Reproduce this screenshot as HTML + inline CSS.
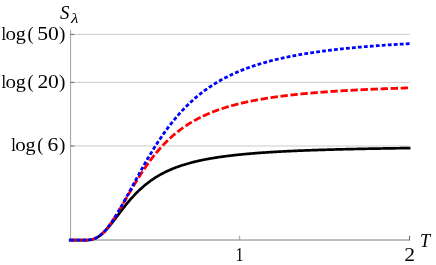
<!DOCTYPE html>
<html><head><meta charset="utf-8"><style>
html,body{margin:0;padding:0;background:#fff;}
body{width:436px;height:265px;overflow:hidden;}
svg{display:block;will-change:transform}
text{font-family:"Liberation Serif",serif;fill:#000;}
</style></head><body>
<svg width="436" height="265" viewBox="0 0 436 265">
<rect width="436" height="265" fill="#fff"/>
<g stroke="#cdcdcd" stroke-width="1" fill="none">
<line x1="70.6" y1="34.43" x2="409.8" y2="34.43"/>
<line x1="70.6" y1="82.42" x2="409.8" y2="82.42"/>
<line x1="70.6" y1="145.97" x2="409.8" y2="145.97"/>
</g>
<g stroke="#777" stroke-width="0.7" fill="none">
<line x1="70.6" y1="29.9" x2="70.6" y2="240.5"/>
<line x1="70.2" y1="240.0" x2="409.9" y2="240.0" stroke="#808080" stroke-width="1"/>
</g>
<g stroke="#6a6a6a" stroke-width="1" fill="none">
<line x1="70.6" y1="34.43" x2="74.4" y2="34.43"/>
<line x1="70.6" y1="82.42" x2="74.4" y2="82.42"/>
<line x1="70.6" y1="145.97" x2="74.4" y2="145.97"/>
<line x1="239.7" y1="235.8" x2="239.7" y2="240" stroke="#999"/>
<line x1="409.5" y1="235.7" x2="409.5" y2="240.5"/>
</g>
<g fill="none" stroke-width="2.8" stroke-linejoin="round">
<path d="M68.9,240.1 L70.5,240.1" stroke="#000" stroke-width="2.7"/>
<path d="M70.48,240.15 L71.33,240.15 L72.18,240.15 L73.03,240.15 L73.88,240.15 L74.72,240.15 L75.57,240.15 L76.42,240.15 L77.27,240.15 L78.12,240.15 L78.96,240.15 L79.81,240.15 L80.66,240.15 L81.51,240.15 L82.35,240.15 L83.20,240.14 L84.05,240.14 L84.90,240.13 L85.75,240.11 L86.59,240.08 L87.44,240.04 L88.29,239.98 L89.14,239.90 L89.99,239.79 L90.83,239.66 L91.68,239.49 L92.53,239.29 L93.38,239.05 L94.22,238.76 L95.07,238.43 L95.92,238.05 L96.77,237.63 L97.62,237.16 L98.46,236.64 L99.31,236.07 L100.16,235.45 L101.01,234.79 L101.85,234.08 L102.70,233.33 L103.55,232.54 L104.40,231.70 L105.25,230.83 L106.09,229.93 L106.94,228.99 L107.79,228.03 L108.64,227.03 L109.49,226.02 L110.33,224.98 L111.18,223.92 L112.03,222.85 L112.88,221.76 L113.72,220.66 L114.57,219.56 L115.42,218.44 L116.27,217.33 L117.12,216.21 L117.96,215.09 L118.81,213.97 L119.66,212.85 L120.51,211.74 L121.36,210.64 L122.20,209.54 L123.05,208.45 L123.90,207.37 L124.75,206.30 L125.59,205.25 L126.44,204.20 L127.29,203.17 L128.14,202.15 L128.99,201.15 L129.83,200.16 L130.68,199.19 L131.53,198.23 L132.38,197.28 L133.23,196.36 L134.07,195.45 L134.92,194.55 L135.77,193.67 L136.62,192.81 L137.46,191.96 L138.31,191.13 L139.16,190.32 L140.01,189.52 L140.86,188.74 L141.70,187.97 L142.55,187.22 L143.40,186.49 L144.25,185.77 L145.10,185.06 L145.94,184.37 L146.79,183.69 L147.64,183.03 L148.49,182.38 L149.33,181.75 L150.18,181.13 L151.03,180.52 L151.88,179.93 L152.73,179.35 L153.57,178.78 L154.42,178.22 L155.27,177.68 L156.12,177.15 L156.96,176.63 L157.81,176.12 L158.66,175.62 L159.51,175.13 L160.36,174.65 L161.20,174.18 L162.05,173.73 L162.90,173.28 L163.75,172.84 L164.60,172.41 L165.44,171.99 L166.29,171.58 L167.14,171.18 L167.99,170.79 L168.83,170.40 L169.68,170.03 L170.53,169.66 L171.38,169.30 L172.23,168.94 L173.07,168.60 L173.92,168.26 L174.77,167.93 L175.62,167.60 L176.47,167.28 L177.31,166.97 L178.16,166.67 L179.01,166.37 L179.86,166.07 L180.70,165.79 L181.55,165.50 L182.40,165.23 L183.25,164.96 L184.10,164.69 L184.94,164.43 L185.79,164.18 L186.64,163.93 L187.49,163.68 L188.34,163.44 L189.18,163.20 L190.03,162.97 L190.88,162.74 L191.73,162.52 L192.57,162.30 L193.42,162.09 L194.27,161.88 L195.12,161.67 L195.97,161.47 L196.81,161.27 L197.66,161.07 L198.51,160.88 L199.36,160.69 L200.20,160.51 L201.05,160.33 L201.90,160.15 L202.75,159.97 L203.60,159.80 L204.44,159.63 L205.29,159.47 L206.14,159.30 L206.99,159.14 L207.84,158.99 L208.68,158.83 L209.53,158.68 L210.38,158.53 L211.23,158.38 L212.07,158.24 L212.92,158.10 L213.77,157.96 L214.62,157.82 L215.47,157.68 L216.31,157.55 L217.16,157.42 L218.01,157.29 L218.86,157.17 L219.71,157.04 L220.55,156.92 L221.40,156.80 L222.25,156.68 L223.10,156.56 L223.94,156.45 L224.79,156.34 L225.64,156.22 L226.49,156.11 L227.34,156.01 L228.18,155.90 L229.03,155.80 L229.88,155.69 L230.73,155.59 L231.58,155.49 L232.42,155.39 L233.27,155.30 L234.12,155.20 L234.97,155.11 L235.81,155.02 L236.66,154.92 L237.51,154.83 L238.36,154.75 L239.21,154.66 L240.05,154.57 L240.90,154.49 L241.75,154.40 L242.60,154.32 L243.45,154.24 L244.29,154.16 L245.14,154.08 L245.99,154.00 L246.84,153.93 L247.68,153.85 L248.53,153.78 L249.38,153.70 L250.23,153.63 L251.08,153.56 L251.92,153.49 L252.77,153.42 L253.62,153.35 L254.47,153.28 L255.31,153.22 L256.16,153.15 L257.01,153.09 L257.86,153.02 L258.71,152.96 L259.55,152.90 L260.40,152.84 L261.25,152.77 L262.10,152.71 L262.95,152.65 L263.79,152.60 L264.64,152.54 L265.49,152.48 L266.34,152.43 L267.18,152.37 L268.03,152.31 L268.88,152.26 L269.73,152.21 L270.58,152.15 L271.42,152.10 L272.27,152.05 L273.12,152.00 L273.97,151.95 L274.82,151.90 L275.66,151.85 L276.51,151.80 L277.36,151.75 L278.21,151.71 L279.05,151.66 L279.90,151.61 L280.75,151.57 L281.60,151.52 L282.45,151.48 L283.29,151.43 L284.14,151.39 L284.99,151.35 L285.84,151.31 L286.69,151.26 L287.53,151.22 L288.38,151.18 L289.23,151.14 L290.08,151.10 L290.92,151.06 L291.77,151.02 L292.62,150.98 L293.47,150.94 L294.32,150.91 L295.16,150.87 L296.01,150.83 L296.86,150.80 L297.71,150.76 L298.55,150.72 L299.40,150.69 L300.25,150.65 L301.10,150.62 L301.95,150.58 L302.79,150.55 L303.64,150.52 L304.49,150.48 L305.34,150.45 L306.19,150.42 L307.03,150.39 L307.88,150.35 L308.73,150.32 L309.58,150.29 L310.42,150.26 L311.27,150.23 L312.12,150.20 L312.97,150.17 L313.82,150.14 L314.66,150.11 L315.51,150.08 L316.36,150.05 L317.21,150.03 L318.06,150.00 L318.90,149.97 L319.75,149.94 L320.60,149.91 L321.45,149.89 L322.29,149.86 L323.14,149.83 L323.99,149.81 L324.84,149.78 L325.69,149.76 L326.53,149.73 L327.38,149.71 L328.23,149.68 L329.08,149.66 L329.93,149.63 L330.77,149.61 L331.62,149.58 L332.47,149.56 L333.32,149.54 L334.16,149.51 L335.01,149.49 L335.86,149.47 L336.71,149.45 L337.56,149.42 L338.40,149.40 L339.25,149.38 L340.10,149.36 L340.95,149.34 L341.80,149.31 L342.64,149.29 L343.49,149.27 L344.34,149.25 L345.19,149.23 L346.03,149.21 L346.88,149.19 L347.73,149.17 L348.58,149.15 L349.43,149.13 L350.27,149.11 L351.12,149.09 L351.97,149.07 L352.82,149.05 L353.66,149.04 L354.51,149.02 L355.36,149.00 L356.21,148.98 L357.06,148.96 L357.90,148.94 L358.75,148.93 L359.60,148.91 L360.45,148.89 L361.30,148.87 L362.14,148.86 L362.99,148.84 L363.84,148.82 L364.69,148.81 L365.53,148.79 L366.38,148.77 L367.23,148.76 L368.08,148.74 L368.93,148.72 L369.77,148.71 L370.62,148.69 L371.47,148.68 L372.32,148.66 L373.17,148.65 L374.01,148.63 L374.86,148.62 L375.71,148.60 L376.56,148.59 L377.40,148.57 L378.25,148.56 L379.10,148.54 L379.95,148.53 L380.80,148.51 L381.64,148.50 L382.49,148.48 L383.34,148.47 L384.19,148.46 L385.04,148.44 L385.88,148.43 L386.73,148.42 L387.58,148.40 L388.43,148.39 L389.27,148.38 L390.12,148.36 L390.97,148.35 L391.82,148.34 L392.67,148.32 L393.51,148.31 L394.36,148.30 L395.21,148.29 L396.06,148.27 L396.90,148.26 L397.75,148.25 L398.60,148.24 L399.45,148.23 L400.30,148.21 L401.14,148.20 L401.99,148.19 L402.84,148.18 L403.69,148.17 L404.54,148.16 L405.38,148.14 L406.23,148.13 L407.08,148.12 L407.93,148.11 L408.77,148.10 L409.62,148.09 L410.47,148.08" stroke="#000" stroke-width="2.7"/>
<path d="M68.9,240.1 L70.5,240.1" stroke="#0000ff"/>
<path d="M70.48,240.15 L71.33,240.15 L72.18,240.15 L73.03,240.15 L73.88,240.15 L74.72,240.15 L75.57,240.15 L76.42,240.15 L77.27,240.15 L78.12,240.15 L78.96,240.15 L79.81,240.15 L80.66,240.15 L81.51,240.15 L82.35,240.15 L83.20,240.14 L84.05,240.14 L84.90,240.13 L85.75,240.11 L86.59,240.08 L87.44,240.04 L88.29,239.98 L89.14,239.90 L89.99,239.79 L90.83,239.66 L91.68,239.49 L92.53,239.29 L93.38,239.04 L94.22,238.76 L95.07,238.42 L95.92,238.04 L96.77,237.61 L97.62,237.13 L98.46,236.60 L99.31,236.02 L100.16,235.39 L101.01,234.70 L101.85,233.97 L102.70,233.18 L103.55,232.35 L104.40,231.47 L105.25,230.54 L106.09,229.57 L106.94,228.56 L107.79,227.50 L108.64,226.41 L109.49,225.28 L110.33,224.12 L111.18,222.92 L112.03,221.69 L112.88,220.43 L113.72,219.15 L114.57,217.84 L115.42,216.51 L116.27,215.16 L117.12,213.79 L117.96,212.40 L118.81,211.00 L119.66,209.58 L120.51,208.15 L121.36,206.72 L122.20,205.27 L123.05,203.82 L123.90,202.36 L124.75,200.91 L125.59,199.44 L126.44,197.98 L127.29,196.52 L128.14,195.06 L128.99,193.61 L129.83,192.15 L130.68,190.71 L131.53,189.27 L132.38,187.84 L133.23,186.41 L134.07,185.00 L134.92,183.59 L135.77,182.20 L136.62,180.81 L137.46,179.44 L138.31,178.08 L139.16,176.74 L140.01,175.40 L140.86,174.08 L141.70,172.78 L142.55,171.49 L143.40,170.21 L144.25,168.96 L145.10,167.71 L145.94,166.48 L146.79,165.27 L147.64,164.07 L148.49,162.89 L149.33,161.73 L150.18,160.58 L151.03,159.45 L151.88,158.34 L152.73,157.24 L153.57,156.15 L154.42,155.09 L155.27,154.04 L156.12,153.01 L156.96,151.99 L157.81,150.99 L158.66,150.00 L159.51,149.03 L160.36,148.08 L161.20,147.14 L162.05,146.22 L162.90,145.31 L163.75,144.41 L164.60,143.54 L165.44,142.67 L166.29,141.82 L167.14,140.99 L167.99,140.17 L168.83,139.36 L169.68,138.57 L170.53,137.79 L171.38,137.02 L172.23,136.27 L173.07,135.53 L173.92,134.80 L174.77,134.09 L175.62,133.39 L176.47,132.70 L177.31,132.02 L178.16,131.35 L179.01,130.70 L179.86,130.05 L180.70,129.42 L181.55,128.80 L182.40,128.19 L183.25,127.59 L184.10,127.00 L184.94,126.42 L185.79,125.85 L186.64,125.29 L187.49,124.73 L188.34,124.19 L189.18,123.66 L190.03,123.14 L190.88,122.62 L191.73,122.12 L192.57,121.62 L193.42,121.13 L194.27,120.65 L195.12,120.18 L195.97,119.72 L196.81,119.26 L197.66,118.81 L198.51,118.37 L199.36,117.94 L200.20,117.51 L201.05,117.09 L201.90,116.68 L202.75,116.27 L203.60,115.87 L204.44,115.48 L205.29,115.10 L206.14,114.72 L206.99,114.34 L207.84,113.97 L208.68,113.61 L209.53,113.26 L210.38,112.91 L211.23,112.56 L212.07,112.22 L212.92,111.89 L213.77,111.56 L214.62,111.24 L215.47,110.92 L216.31,110.61 L217.16,110.30 L218.01,109.99 L218.86,109.69 L219.71,109.40 L220.55,109.11 L221.40,108.83 L222.25,108.54 L223.10,108.27 L223.94,108.00 L224.79,107.73 L225.64,107.46 L226.49,107.20 L227.34,106.95 L228.18,106.69 L229.03,106.44 L229.88,106.20 L230.73,105.96 L231.58,105.72 L232.42,105.48 L233.27,105.25 L234.12,105.03 L234.97,104.80 L235.81,104.58 L236.66,104.36 L237.51,104.15 L238.36,103.94 L239.21,103.73 L240.05,103.52 L240.90,103.32 L241.75,103.12 L242.60,102.92 L243.45,102.72 L244.29,102.53 L245.14,102.34 L245.99,102.16 L246.84,101.97 L247.68,101.79 L248.53,101.61 L249.38,101.43 L250.23,101.26 L251.08,101.09 L251.92,100.92 L252.77,100.75 L253.62,100.59 L254.47,100.42 L255.31,100.26 L256.16,100.10 L257.01,99.95 L257.86,99.79 L258.71,99.64 L259.55,99.49 L260.40,99.34 L261.25,99.19 L262.10,99.05 L262.95,98.90 L263.79,98.76 L264.64,98.62 L265.49,98.49 L266.34,98.35 L267.18,98.22 L268.03,98.08 L268.88,97.95 L269.73,97.82 L270.58,97.70 L271.42,97.57 L272.27,97.44 L273.12,97.32 L273.97,97.20 L274.82,97.08 L275.66,96.96 L276.51,96.84 L277.36,96.73 L278.21,96.61 L279.05,96.50 L279.90,96.39 L280.75,96.28 L281.60,96.17 L282.45,96.06 L283.29,95.95 L284.14,95.85 L284.99,95.75 L285.84,95.64 L286.69,95.54 L287.53,95.44 L288.38,95.34 L289.23,95.24 L290.08,95.15 L290.92,95.05 L291.77,94.95 L292.62,94.86 L293.47,94.77 L294.32,94.68 L295.16,94.58 L296.01,94.49 L296.86,94.41 L297.71,94.32 L298.55,94.23 L299.40,94.15 L300.25,94.06 L301.10,93.98 L301.95,93.89 L302.79,93.81 L303.64,93.73 L304.49,93.65 L305.34,93.57 L306.19,93.49 L307.03,93.41 L307.88,93.34 L308.73,93.26 L309.58,93.18 L310.42,93.11 L311.27,93.04 L312.12,92.96 L312.97,92.89 L313.82,92.82 L314.66,92.75 L315.51,92.68 L316.36,92.61 L317.21,92.54 L318.06,92.47 L318.90,92.40 L319.75,92.34 L320.60,92.27 L321.45,92.21 L322.29,92.14 L323.14,92.08 L323.99,92.01 L324.84,91.95 L325.69,91.89 L326.53,91.83 L327.38,91.77 L328.23,91.71 L329.08,91.65 L329.93,91.59 L330.77,91.53 L331.62,91.47 L332.47,91.41 L333.32,91.36 L334.16,91.30 L335.01,91.24 L335.86,91.19 L336.71,91.13 L337.56,91.08 L338.40,91.02 L339.25,90.97 L340.10,90.92 L340.95,90.87 L341.80,90.81 L342.64,90.76 L343.49,90.71 L344.34,90.66 L345.19,90.61 L346.03,90.56 L346.88,90.51 L347.73,90.47 L348.58,90.42 L349.43,90.37 L350.27,90.32 L351.12,90.28 L351.97,90.23 L352.82,90.18 L353.66,90.14 L354.51,90.09 L355.36,90.05 L356.21,90.00 L357.06,89.96 L357.90,89.92 L358.75,89.87 L359.60,89.83 L360.45,89.79 L361.30,89.75 L362.14,89.70 L362.99,89.66 L363.84,89.62 L364.69,89.58 L365.53,89.54 L366.38,89.50 L367.23,89.46 L368.08,89.42 L368.93,89.38 L369.77,89.34 L370.62,89.31 L371.47,89.27 L372.32,89.23 L373.17,89.19 L374.01,89.16 L374.86,89.12 L375.71,89.08 L376.56,89.05 L377.40,89.01 L378.25,88.98 L379.10,88.94 L379.95,88.91 L380.80,88.87 L381.64,88.84 L382.49,88.80 L383.34,88.77 L384.19,88.74 L385.04,88.70 L385.88,88.67 L386.73,88.64 L387.58,88.60 L388.43,88.57 L389.27,88.54 L390.12,88.51 L390.97,88.48 L391.82,88.45 L392.67,88.41 L393.51,88.38 L394.36,88.35 L395.21,88.32 L396.06,88.29 L396.90,88.26 L397.75,88.23 L398.60,88.20 L399.45,88.18 L400.30,88.15 L401.14,88.12 L401.99,88.09 L402.84,88.06 L403.69,88.03 L404.54,88.01 L405.38,87.98 L406.23,87.95 L407.08,87.92 L407.93,87.90 L408.77,87.87 L409.62,87.84 L410.47,87.82" stroke="#ff0000" stroke-dasharray="7.4,2.64"/>
<path d="M70.48,240.15 L71.33,240.15 L72.18,240.15 L73.03,240.15 L73.88,240.15 L74.72,240.15 L75.57,240.15 L76.42,240.15 L77.27,240.15 L78.12,240.15 L78.96,240.15 L79.81,240.15 L80.66,240.15 L81.51,240.15 L82.35,240.15 L83.20,240.14 L84.05,240.14 L84.90,240.13 L85.75,240.11 L86.59,240.08 L87.44,240.04 L88.29,239.98 L89.14,239.90 L89.99,239.79 L90.83,239.66 L91.68,239.49 L92.53,239.29 L93.38,239.04 L94.22,238.76 L95.07,238.42 L95.92,238.04 L96.77,237.61 L97.62,237.13 L98.46,236.60 L99.31,236.02 L100.16,235.39 L101.01,234.70 L101.85,233.97 L102.70,233.18 L103.55,232.35 L104.40,231.47 L105.25,230.54 L106.09,229.56 L106.94,228.55 L107.79,227.49 L108.64,226.39 L109.49,225.26 L110.33,224.08 L111.18,222.88 L112.03,221.64 L112.88,220.37 L113.72,219.07 L114.57,217.74 L115.42,216.39 L116.27,215.02 L117.12,213.62 L117.96,212.20 L118.81,210.76 L119.66,209.31 L120.51,207.84 L121.36,206.35 L122.20,204.85 L123.05,203.34 L123.90,201.82 L124.75,200.29 L125.59,198.75 L126.44,197.20 L127.29,195.65 L128.14,194.09 L128.99,192.53 L129.83,190.97 L130.68,189.40 L131.53,187.83 L132.38,186.26 L133.23,184.70 L134.07,183.13 L134.92,181.57 L135.77,180.01 L136.62,178.45 L137.46,176.90 L138.31,175.35 L139.16,173.81 L140.01,172.27 L140.86,170.75 L141.70,169.22 L142.55,167.71 L143.40,166.21 L144.25,164.71 L145.10,163.23 L145.94,161.75 L146.79,160.28 L147.64,158.83 L148.49,157.38 L149.33,155.95 L150.18,154.53 L151.03,153.12 L151.88,151.72 L152.73,150.34 L153.57,148.96 L154.42,147.60 L155.27,146.26 L156.12,144.92 L156.96,143.60 L157.81,142.29 L158.66,141.00 L159.51,139.72 L160.36,138.46 L161.20,137.20 L162.05,135.96 L162.90,134.74 L163.75,133.53 L164.60,132.33 L165.44,131.15 L166.29,129.98 L167.14,128.83 L167.99,127.69 L168.83,126.56 L169.68,125.45 L170.53,124.35 L171.38,123.27 L172.23,122.20 L173.07,121.14 L173.92,120.10 L174.77,119.07 L175.62,118.05 L176.47,117.05 L177.31,116.06 L178.16,115.09 L179.01,114.12 L179.86,113.17 L180.70,112.24 L181.55,111.31 L182.40,110.40 L183.25,109.50 L184.10,108.62 L184.94,107.74 L185.79,106.88 L186.64,106.03 L187.49,105.19 L188.34,104.37 L189.18,103.55 L190.03,102.75 L190.88,101.96 L191.73,101.18 L192.57,100.41 L193.42,99.65 L194.27,98.90 L195.12,98.16 L195.97,97.44 L196.81,96.72 L197.66,96.02 L198.51,95.32 L199.36,94.63 L200.20,93.96 L201.05,93.29 L201.90,92.63 L202.75,91.99 L203.60,91.35 L204.44,90.72 L205.29,90.10 L206.14,89.49 L206.99,88.88 L207.84,88.29 L208.68,87.70 L209.53,87.13 L210.38,86.56 L211.23,86.00 L212.07,85.44 L212.92,84.90 L213.77,84.36 L214.62,83.83 L215.47,83.31 L216.31,82.79 L217.16,82.29 L218.01,81.78 L218.86,81.29 L219.71,80.80 L220.55,80.32 L221.40,79.85 L222.25,79.38 L223.10,78.92 L223.94,78.47 L224.79,78.02 L225.64,77.58 L226.49,77.15 L227.34,76.72 L228.18,76.29 L229.03,75.88 L229.88,75.47 L230.73,75.06 L231.58,74.66 L232.42,74.26 L233.27,73.87 L234.12,73.49 L234.97,73.11 L235.81,72.74 L236.66,72.37 L237.51,72.00 L238.36,71.64 L239.21,71.29 L240.05,70.94 L240.90,70.59 L241.75,70.25 L242.60,69.92 L243.45,69.58 L244.29,69.26 L245.14,68.93 L245.99,68.61 L246.84,68.30 L247.68,67.99 L248.53,67.68 L249.38,67.38 L250.23,67.08 L251.08,66.78 L251.92,66.49 L252.77,66.21 L253.62,65.92 L254.47,65.64 L255.31,65.36 L256.16,65.09 L257.01,64.82 L257.86,64.55 L258.71,64.29 L259.55,64.03 L260.40,63.77 L261.25,63.52 L262.10,63.27 L262.95,63.02 L263.79,62.78 L264.64,62.54 L265.49,62.30 L266.34,62.06 L267.18,61.83 L268.03,61.60 L268.88,61.37 L269.73,61.15 L270.58,60.93 L271.42,60.71 L272.27,60.49 L273.12,60.28 L273.97,60.07 L274.82,59.86 L275.66,59.65 L276.51,59.45 L277.36,59.25 L278.21,59.05 L279.05,58.85 L279.90,58.66 L280.75,58.46 L281.60,58.27 L282.45,58.09 L283.29,57.90 L284.14,57.72 L284.99,57.53 L285.84,57.35 L286.69,57.18 L287.53,57.00 L288.38,56.83 L289.23,56.66 L290.08,56.49 L290.92,56.32 L291.77,56.15 L292.62,55.99 L293.47,55.83 L294.32,55.66 L295.16,55.51 L296.01,55.35 L296.86,55.19 L297.71,55.04 L298.55,54.89 L299.40,54.74 L300.25,54.59 L301.10,54.44 L301.95,54.29 L302.79,54.15 L303.64,54.01 L304.49,53.87 L305.34,53.73 L306.19,53.59 L307.03,53.45 L307.88,53.32 L308.73,53.18 L309.58,53.05 L310.42,52.92 L311.27,52.79 L312.12,52.66 L312.97,52.53 L313.82,52.41 L314.66,52.28 L315.51,52.16 L316.36,52.04 L317.21,51.92 L318.06,51.80 L318.90,51.68 L319.75,51.56 L320.60,51.45 L321.45,51.33 L322.29,51.22 L323.14,51.11 L323.99,50.99 L324.84,50.88 L325.69,50.77 L326.53,50.67 L327.38,50.56 L328.23,50.45 L329.08,50.35 L329.93,50.24 L330.77,50.14 L331.62,50.04 L332.47,49.94 L333.32,49.84 L334.16,49.74 L335.01,49.64 L335.86,49.54 L336.71,49.44 L337.56,49.35 L338.40,49.25 L339.25,49.16 L340.10,49.07 L340.95,48.98 L341.80,48.88 L342.64,48.79 L343.49,48.70 L344.34,48.62 L345.19,48.53 L346.03,48.44 L346.88,48.35 L347.73,48.27 L348.58,48.18 L349.43,48.10 L350.27,48.02 L351.12,47.93 L351.97,47.85 L352.82,47.77 L353.66,47.69 L354.51,47.61 L355.36,47.53 L356.21,47.46 L357.06,47.38 L357.90,47.30 L358.75,47.22 L359.60,47.15 L360.45,47.07 L361.30,47.00 L362.14,46.93 L362.99,46.85 L363.84,46.78 L364.69,46.71 L365.53,46.64 L366.38,46.57 L367.23,46.50 L368.08,46.43 L368.93,46.36 L369.77,46.29 L370.62,46.23 L371.47,46.16 L372.32,46.09 L373.17,46.03 L374.01,45.96 L374.86,45.90 L375.71,45.83 L376.56,45.77 L377.40,45.71 L378.25,45.64 L379.10,45.58 L379.95,45.52 L380.80,45.46 L381.64,45.40 L382.49,45.34 L383.34,45.28 L384.19,45.22 L385.04,45.16 L385.88,45.10 L386.73,45.05 L387.58,44.99 L388.43,44.93 L389.27,44.87 L390.12,44.82 L390.97,44.76 L391.82,44.71 L392.67,44.65 L393.51,44.60 L394.36,44.55 L395.21,44.49 L396.06,44.44 L396.90,44.39 L397.75,44.34 L398.60,44.28 L399.45,44.23 L400.30,44.18 L401.14,44.13 L401.99,44.08 L402.84,44.03 L403.69,43.98 L404.54,43.93 L405.38,43.88 L406.23,43.84 L407.08,43.79 L407.93,43.74 L408.77,43.69 L409.62,43.65 L410.47,43.60" stroke="#0000ff" stroke-dasharray="3.8,2.2"/>
</g>
<g font-size="18.3px">
<text transform="translate(1.47,40.0) scale(0.9,1)">l</text><text transform="translate(5.61,40.0) scale(1.15,1)">o</text><text transform="translate(15.87,40.0) scale(1.1,1)">g</text><text transform="translate(27.57,40.0) scale(1.0,1)">(</text><text transform="translate(37.27,40.0) scale(1.18,1)">5</text><text transform="translate(47.88,40.0) scale(1.18,1)">0</text><text transform="translate(59.05,40.0) scale(1.05,1)">)</text>
<text transform="translate(1.47,88.1) scale(0.9,1)">l</text><text transform="translate(5.61,88.1) scale(1.15,1)">o</text><text transform="translate(15.87,88.1) scale(1.1,1)">g</text><text transform="translate(27.57,88.1) scale(1.0,1)">(</text><text transform="translate(37.60,88.1) scale(1.18,1)">2</text><text transform="translate(47.88,88.1) scale(1.18,1)">0</text><text transform="translate(59.05,88.1) scale(1.05,1)">)</text>
<text transform="translate(11.17,151.3) scale(0.9,1)">l</text><text transform="translate(15.31,151.3) scale(1.15,1)">o</text><text transform="translate(25.57,151.3) scale(1.1,1)">g</text><text transform="translate(37.37,151.3) scale(1.0,1)">(</text><text transform="translate(47.43,151.3) scale(1.18,1)">6</text><text transform="translate(59.05,151.3) scale(1.05,1)">)</text>
<text transform="translate(235.58,260.8) scale(0.88,1)">1</text>
<text transform="translate(404.20,260.8) scale(1.18,1)">2</text>
<text x="420" y="247" font-style="italic">T</text>
<text x="60.0" y="19.2" font-size="18.8px" font-style="italic">S</text><text transform="translate(71.0,22.8) scale(1.25,1)" font-size="13.8px" font-style="italic">λ</text>
</g>
</svg>
</body></html>
